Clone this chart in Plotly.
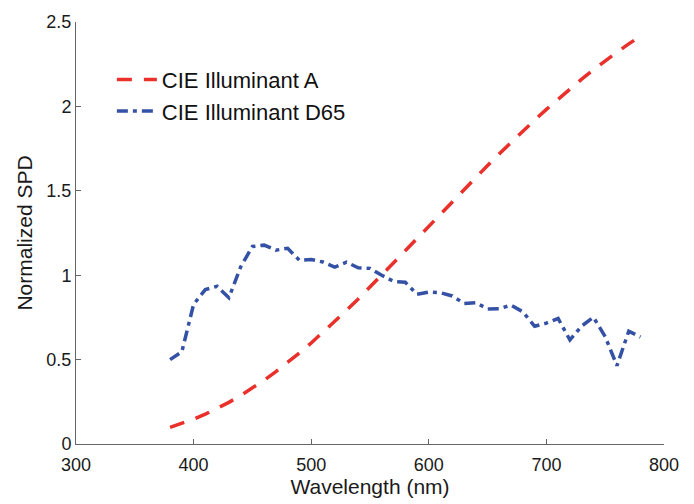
import plotly.graph_objects as go

wavelength = list(range(380, 781, 10))
illum_a = [9.80, 12.09, 14.71, 17.68, 20.99, 24.67, 28.70, 33.09, 37.81, 42.87,
           48.24, 53.91, 59.86, 66.06, 72.50, 79.13, 85.95, 92.91, 100.00, 107.18,
           114.44, 121.73, 129.04, 136.35, 143.62, 150.84, 157.98, 165.03, 171.96,
           178.77, 185.43, 191.93, 198.26, 204.41, 210.36, 216.12, 221.67, 227.00,
           232.12, 237.01, 241.68]
illum_d65 = [49.98, 54.65, 82.75, 91.49, 93.43, 86.68, 104.86, 117.01, 117.81, 114.86,
             115.92, 108.81, 109.35, 107.80, 104.79, 107.69, 104.41, 104.05, 100.00,
             96.33, 95.79, 88.69, 90.01, 89.60, 87.70, 83.29, 83.70, 80.03, 80.21,
             82.28, 78.28, 69.72, 71.61, 74.35, 61.60, 69.89, 75.09, 63.59, 46.42,
             66.81, 63.38]
a_norm = [v / 100 for v in illum_a]
d65_norm = [v / 100 for v in illum_d65]

x_ticks = [300, 400, 500, 600, 700, 800]
y_ticks = [0, 0.5, 1, 1.5, 2, 2.5]

fig = go.Figure()
fig.add_trace(go.Scatter(x=wavelength, y=a_norm, mode="lines", name="CIE Illuminant A",
                         line=dict(color="#E9302B", width=3.5, dash="15px,12px")))
fig.add_trace(go.Scatter(x=wavelength, y=d65_norm, mode="lines", name="CIE Illuminant D65",
                         line=dict(color="#3451A6", width=3.5, dash="11px,5px,4px,5px")))

font = "Liberation Sans, Arial, Helvetica, sans-serif"
fig.update_layout(
    width=694, height=504,
    margin=dict(l=76, r=30, t=16, b=58),
    paper_bgcolor="white", plot_bgcolor="white",
    font=dict(family=font, size=18, color="#1a1a1a"),
    showlegend=True,
    legend=dict(x=0.061, y=0.913, xanchor="left", yanchor="top",
                bgcolor="rgba(255,255,255,0)", font=dict(size=22, color="#111"),
                tracegroupgap=0, itemwidth=40),
    xaxis=dict(range=[300, 800], tickvals=x_ticks, showgrid=False, zeroline=False,
               showline=True, linecolor="#666", linewidth=1, ticks="inside",
               ticklen=5, tickcolor="#666", ticklabelstandoff=4,
               title=dict(text="Wavelength (nm)", font=dict(size=21), standoff=3)),
    yaxis=dict(range=[0, 2.5], tickvals=y_ticks, showgrid=False, zeroline=False,
               showline=True, linecolor="#666", linewidth=1, ticks="inside",
               ticklen=5, tickcolor="#666",
               title=dict(text="Normalized SPD", font=dict(size=21), standoff=8)),
)

fig.write_html("out.html")
